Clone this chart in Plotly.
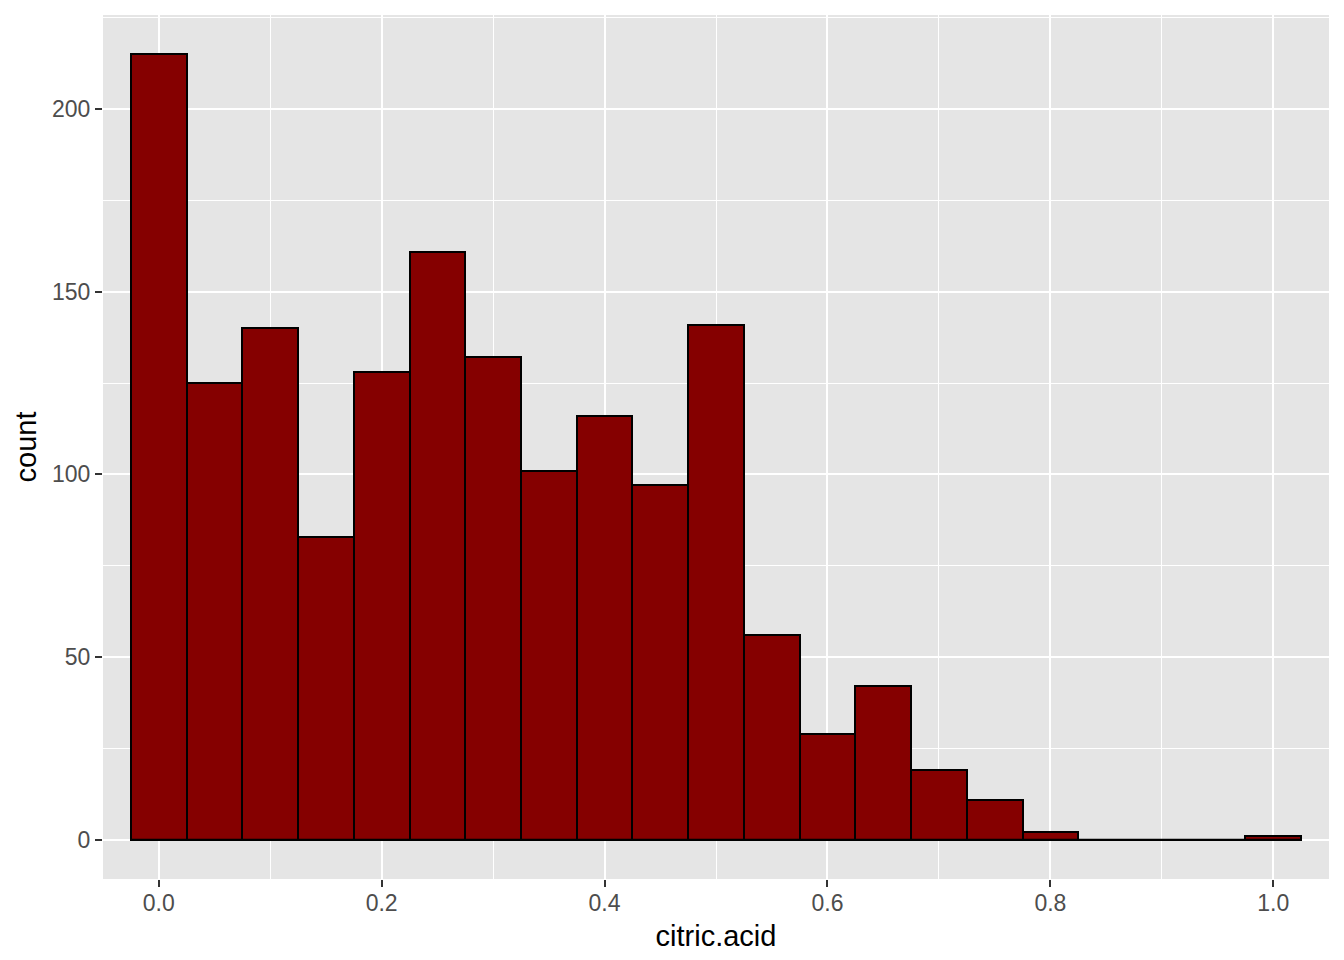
import plotly.graph_objects as go

bin_centers = [0.0, 0.05, 0.1, 0.15, 0.2, 0.25, 0.3, 0.35, 0.4, 0.45, 0.5,
               0.55, 0.6, 0.65, 0.7, 0.75, 0.8, 0.85, 0.9, 0.95, 1.0]
counts = [215, 125, 140, 83, 128, 161, 132, 101, 116, 97, 141,
          56, 29, 42, 19, 11, 2, 0, 0, 0, 1]
bin_width = 0.05
x_ticks = [0.0, 0.2, 0.4, 0.6, 0.8, 1.0]
x_tick_labels = ["0.0", "0.2", "0.4", "0.6", "0.8", "1.0"]
y_ticks = [0, 50, 100, 150, 200]

fig = go.Figure()

# baseline outline (ggplot draws outlines of zero-height bins too)
edges = [bin_centers[0] - bin_width / 2, bin_centers[-1] + bin_width / 2]
fig.add_trace(go.Scatter(x=edges, y=[0, 0], mode="lines",
                         line=dict(color="black", width=2),
                         hoverinfo="skip", showlegend=False))

fig.add_trace(go.Bar(x=bin_centers, y=counts, width=bin_width,
                     marker=dict(color="#850000",
                                 line=dict(color="black", width=2)),
                     showlegend=False))

fig.update_layout(
    width=1336, height=952,
    margin=dict(l=95, r=15, t=7, b=81, autoexpand=False),
    paper_bgcolor="white", plot_bgcolor="#E5E5E5",
    font=dict(family="Liberation Sans, Arial, sans-serif"),
    bargap=0,
    xaxis=dict(range=[-0.05, 1.05], tickvals=x_ticks, ticktext=x_tick_labels,
               showgrid=True, gridcolor="white", gridwidth=2.2,
               minor=dict(dtick=0.1, tick0=0.1, showgrid=True, gridcolor="white", gridwidth=1.1),
               zeroline=False, showline=False,
               ticks="outside", ticklen=7, tickwidth=2, tickcolor="#333333",
               ticklabelstandoff=-4,
               tickfont=dict(size=23, color="#4D4D4D"),
               title=dict(text="citric.acid", font=dict(size=29, color="black"), standoff=11)),
    yaxis=dict(range=[-10.75, 225.75], tickvals=y_ticks,
               showgrid=True, gridcolor="white", gridwidth=2.2,
               minor=dict(dtick=50, tick0=25, showgrid=True, gridcolor="white", gridwidth=1.1),
               zeroline=False, showline=False,
               ticks="outside", ticklen=7, tickwidth=2, tickcolor="#333333",
               tickfont=dict(size=23, color="#4D4D4D"),
               title=dict(text="count", font=dict(size=29, color="black"), standoff=6)),
)

fig.write_html("out.html")
